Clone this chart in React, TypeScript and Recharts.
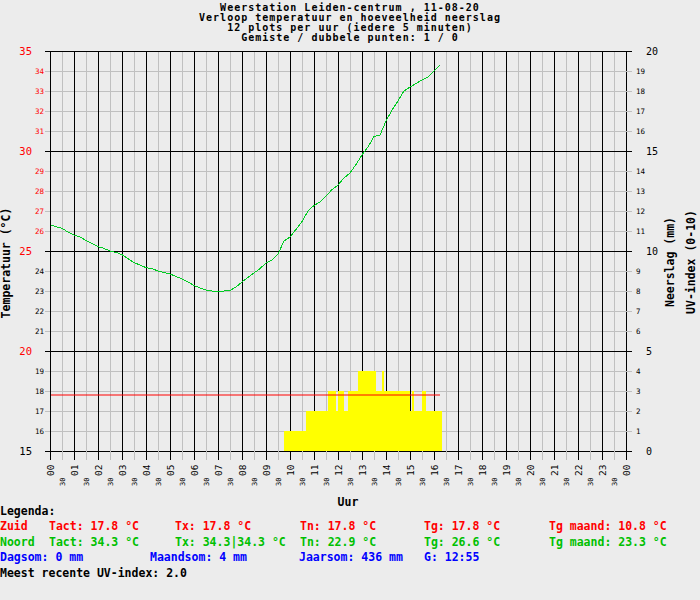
import React from 'react';
import { ComposedChart, Line, Area, XAxis, YAxis, CartesianGrid } from 'recharts';

// temperature Noord, one reading every 15 minutes from 00:00
const TEMP_NOORD = [
  26.3, 26.22, 26.13, 25.95, 25.8, 25.7, 25.53, 25.38, 25.22, 25.13,
  25.0, 24.93, 24.82, 24.62, 24.42, 24.3, 24.17, 24.12, 24.0, 23.92,
  23.85, 23.73, 23.6, 23.45, 23.28, 23.15, 23.05, 23.0, 22.97, 23.0,
  23.02, 23.2, 23.45, 23.68, 23.9, 24.12, 24.4, 24.55, 24.85, 25.5,
  25.7, 26.08, 26.47, 27.0, 27.28, 27.45, 27.75, 28.07, 28.3, 28.65,
  28.9, 29.33, 29.8, 30.2, 30.73, 30.8, 31.5, 32.05, 32.5, 33.0,
  33.2, 33.37, 33.55, 33.7, 34.0, 34.3,
];

// temperature Zuid (flat)
const ZUID_TIMES = [0, 16.25];
const ZUID_TEMP = [17.8, 17.8];

// UV index, one reading every 5 minutes starting 09:45
const UV_START = 9.75;
const UV_INDEX = [
  1, 1, 1, 1, 1, 1, 1, 1, 1, 1, 1,
  2, 2, 2, 2, 2, 2, 2, 2, 2, 2, 2,
  3, 3, 3, 3, 2, 3, 3, 3, 2, 2,
  3, 3, 3, 3, 3,
  4, 4, 4, 4, 4, 4, 4, 4, 4,
  3, 3, 3, 4,
  3, 3, 3, 3, 3, 3, 3, 3, 3, 3, 3, 3, 3,
  2, 3, 2, 2, 2, 2, 3, 3,
  2, 2, 2, 2, 2, 2, 2, 2,
];

const HALF_HOURS = [
  0, 0.5, 1, 1.5, 2, 2.5, 3, 3.5, 4, 4.5, 5, 5.5, 6, 6.5, 7, 7.5, 8, 8.5, 9, 9.5,
  10, 10.5, 11, 11.5, 12, 12.5, 13, 13.5, 14, 14.5, 15, 15.5, 16, 16.5, 17, 17.5,
  18, 18.5, 19, 19.5, 20, 20.5, 21, 21.5, 22, 22.5, 23, 23.5, 24,
];
const HOURS = [0, 1, 2, 3, 4, 5, 6, 7, 8, 9, 10, 11, 12, 13, 14, 15, 16, 17, 18, 19, 20, 21, 22, 23, 24];
const TEMP_TICKS = [15, 16, 17, 18, 19, 20, 21, 22, 23, 24, 25, 26, 27, 28, 29, 30, 31, 32, 33, 34, 35];
const TEMP_MAJOR = [15, 20, 25, 30, 35];
const RAIN_TICKS = [0, 1, 2, 3, 4, 5, 6, 7, 8, 9, 10, 11, 12, 13, 14, 15, 16, 17, 18, 19, 20];

const TITLE_LINES = [
  'Weerstation Leiden-centrum , 11-08-20',
  'Verloop temperatuur en hoeveelheid neerslag',
  '12 plots per uur (iedere 5 minuten)',
  'Gemiste / dubbele punten: 1 / 0',
];

const LEGEND_ZUID = ['Zuid', 'Tact: 17.8 °C', 'Tx: 17.8 °C', 'Tn: 17.8 °C', 'Tg: 17.8 °C', 'Tg maand: 10.8 °C'];
const LEGEND_NOORD = ['Noord', 'Tact: 34.3 °C', 'Tx: 34.3|34.3 °C', 'Tn: 22.9 °C', 'Tg: 26.6 °C', 'Tg maand: 23.3 °C'];
const LEGEND_RAIN = ['Dagsom: 0 mm', 'Maandsom: 4 mm', 'Jaarsom: 436 mm', 'G: 12:55'];
const UV_RECENT = 'Meest recente UV-index: 2.0';

const BG = '#ececec';
const GRID = '#c0c0c0';
const RED = '#ff0000';
const GREEN = '#00c000';
const LINE_GREEN = '#00cc22';
const BLUE = '#0000ff';
const MONO = "'DejaVu Sans Mono', monospace";

const tempData = TEMP_NOORD.map((temp, i) => ({ t: i / 4, temp }));
const zuidData = ZUID_TIMES.map((t, i) => ({ t, temp: ZUID_TEMP[i] }));
const uvData = [...UV_INDEX, UV_INDEX[UV_INDEX.length - 1]].map((uv, i) => ({ t: UV_START + i / 12, uv }));

function LeftTick({ x, y, payload }: any) {
  const v = payload.value;
  const major = v % 5 === 0;
  const color = v > 25 || (major && v >= 20) ? RED : '#000';
  return (
    <g>
      <line x1={x - 5} x2={x} y1={y} y2={y} stroke={major ? '#000' : GRID} />
      <text
        x={major ? x - 18 : x - 6}
        y={y + (major ? 4 : 2.5)}
        textAnchor="end"
        fontSize={major ? 10.5 : 7.5}
        fontFamily={MONO}
        fill={color}
      >
        {v}
      </text>
    </g>
  );
}

function RightTick({ x, y, payload }: any) {
  const v = payload.value;
  const major = v % 5 === 0;
  return (
    <g>
      <line x1={x} x2={x + 6} y1={y} y2={y} stroke={major ? '#000' : GRID} />
      <text
        x={major ? x + 20 : x + 10}
        y={y + (major ? 4 : 2.5)}
        fontSize={major ? 10 : 7.5}
        fontFamily={MONO}
        fill="#000"
      >
        {v}
      </text>
    </g>
  );
}

function HourTick({ x, y, payload }: any) {
  const v = payload.value;
  const isHour = Number.isInteger(v);
  const label = isHour ? String(v % 24).padStart(2, '0') : '30';
  return (
    <g>
      <line x1={x} x2={x} y1={y} y2={y + 9} stroke={isHour ? '#000' : GRID} />
      {isHour ? (
        <text transform={`translate(${x + 4},${y + 25}) rotate(-90)`} fontSize={9.5} fontFamily={MONO} fill="#000">
          {label}
        </text>
      ) : (
        <text transform={`translate(${x + 3},${y + 35}) rotate(-90)`} fontSize={7} fontFamily={MONO} fill="#000">
          {label}
        </text>
      )}
    </g>
  );
}

function Texts() {
  const cols = [0, 49, 175, 300, 424, 549];
  const rainCols = [0, 150, 299, 424];
  const bold = { fontFamily: MONO, fontWeight: 700, fontSize: 11.5 } as const;
  const titleFont = { fontFamily: MONO, fontWeight: 700, fontSize: 10, letterSpacing: 1 } as const;
  return (
    <svg width={700} height={600} style={{ position: 'absolute', left: 0, top: 0, pointerEvents: 'none' }}>
      {TITLE_LINES.map((line, i) => (
        <text key={line} x={350} y={11 + i * 10} textAnchor="middle" {...titleFont} fill="#000">
          {line}
        </text>
      ))}
      <text transform="translate(10,263) rotate(-90)" textAnchor="middle" {...bold} fill="#000">
        Temperatuur (°C)
      </text>
      <text transform="translate(674,262) rotate(-90)" textAnchor="middle" {...bold} fill="#000">
        Neerslag (mm)
      </text>
      <text transform="translate(695,262) rotate(-90)" textAnchor="middle" {...bold} fill="#000">
        UV-index (0-10)
      </text>
      <text x={348} y={506} textAnchor="middle" {...bold} fill="#000">
        Uur
      </text>
      <text x={0} y={515} {...bold} fill="#000">
        Legenda:
      </text>
      {LEGEND_ZUID.map((s, i) => (
        <text key={'z' + i} x={cols[i]} y={530} {...bold} fill={RED}>
          {s}
        </text>
      ))}
      {LEGEND_NOORD.map((s, i) => (
        <text key={'n' + i} x={cols[i]} y={546} {...bold} fill={GREEN}>
          {s}
        </text>
      ))}
      {LEGEND_RAIN.map((s, i) => (
        <text key={'r' + i} x={rainCols[i]} y={561} {...bold} fill={BLUE}>
          {s}
        </text>
      ))}
      <text x={0} y={577} {...bold} fill="#000">
        {UV_RECENT}
      </text>
    </svg>
  );
}

export default function App() {
  return (
    <div
      style={{
        position: 'absolute',
        left: 0,
        top: 0,
        width: 700,
        height: 600,
        background: BG,
        shapeRendering: 'crispEdges',
      }}
    >
      <ComposedChart width={700} height={600} margin={{ top: 51, right: 0, bottom: 109, left: 0 }}>
        <CartesianGrid yAxisId="left" stroke={GRID} verticalValues={HALF_HOURS} horizontalValues={TEMP_TICKS} />
        <CartesianGrid yAxisId="left" stroke="#000" verticalValues={HOURS} horizontalValues={TEMP_MAJOR} />
        <XAxis
          dataKey="t"
          type="number"
          domain={[0, 24]}
          ticks={HALF_HOURS}
          interval={0}
          allowDataOverflow
          height={40}
          tickSize={0}
          tickMargin={0}
          tickLine={false}
          axisLine={{ stroke: '#000' }}
          tick={<HourTick />}
        />
        <YAxis
          yAxisId="left"
          type="number"
          domain={[15, 35]}
          ticks={TEMP_TICKS}
          interval={0}
          width={50}
          tickSize={0}
          tickMargin={0}
          tickLine={false}
          axisLine={{ stroke: '#000' }}
          tick={<LeftTick />}
        />
        <YAxis
          yAxisId="right"
          orientation="right"
          type="number"
          domain={[0, 20]}
          ticks={RAIN_TICKS}
          interval={0}
          width={74}
          tickSize={0}
          tickMargin={0}
          tickLine={false}
          axisLine={{ stroke: '#000' }}
          tick={<RightTick />}
        />
        <Area
          yAxisId="right"
          data={uvData}
          dataKey="uv"
          type="stepAfter"
          stroke="none"
          fill="#ffff00"
          fillOpacity={1}
          baseValue={0}
          isAnimationActive={false}
        />
        <Line
          yAxisId="left"
          data={zuidData}
          dataKey="temp"
          type="linear"
          stroke={RED}
          strokeWidth={1}
          shapeRendering="auto"
          dot={false}
          isAnimationActive={false}
        />
        <Line
          yAxisId="left"
          data={tempData}
          dataKey="temp"
          type="linear"
          stroke={LINE_GREEN}
          strokeWidth={1}
          dot={false}
          isAnimationActive={false}
        />
      </ComposedChart>
      <Texts />
    </div>
  );
}
